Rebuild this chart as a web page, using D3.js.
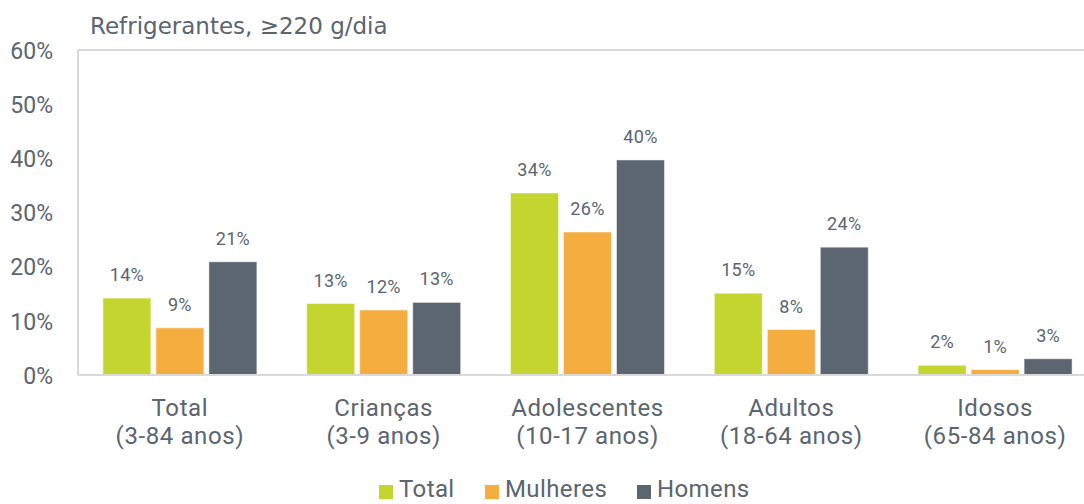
<!DOCTYPE html>
<html><head><meta charset="utf-8">
<script src="https://cdn.jsdelivr.net/npm/d3@7/dist/d3.min.js"></script>
<style>body{margin:0;background:#fff}svg{display:block}text{font-family:Roboto,"Open Sans",sans-serif;fill:#5a6570}</style>
</head><body><svg id="c" width="1084" height="504"></svg>
<script>
const categories = ["Total|(3-84 anos)", "Crianças|(3-9 anos)", "Adolescentes|(10-17 anos)", "Adultos|(18-64 anos)", "Idosos|(65-84 anos)"];
const seriesNames = ["Total", "Mulheres", "Homens"];
const totalValues = [14.2, 13.2, 33.6, 15.1, 1.8];
const mulheresValues = [8.7, 12.0, 26.4, 8.4, 1.0];
const homensValues = [20.9, 13.4, 39.7, 23.6, 3.0];
const yTicks = [0, 10, 20, 30, 40, 50, 60];
const colors = ["#c4d52f", "#f6ad40", "#5b6670"];
const title = "Refrigerantes, ≥220 g/dia";

const svg = d3.select("#c");
const L = 78, T = 50, B = 375;
const y = d3.scaleLinear().domain([0, 60]).range([B, T]);
const x0 = d3.scaleBand().domain(categories).range([L, 1097]).padding(0);
const x1 = d3.scaleBand().domain(seriesNames).range([0, x0.bandwidth()]).paddingInner(5/53).paddingOuter(0.47);
const seriesValues = [totalValues, mulheresValues, homensValues];

// frame lines
svg.append("line").attr("x1", L).attr("x2", 1084).attr("y1", T).attr("y2", T).attr("stroke", "#d9d9d9").attr("stroke-width", 2);
svg.append("line").attr("x1", L).attr("x2", L).attr("y1", T).attr("y2", B).attr("stroke", "#d9d9d9").attr("stroke-width", 2);

// y axis
const yAxis = d3.axisLeft(y).tickValues(yTicks).tickFormat(d => d + "%").tickSize(0).tickPadding(0);
const ya = svg.append("g").attr("transform", `translate(53,0)`).call(yAxis);
ya.select(".domain").remove();
ya.selectAll("text").attr("font-size", 23).style("font-family", "Roboto").attr("fill", "#5a6570").attr("dy", "0.36em");

// bars
categories.forEach((c, i) => {
  const g = svg.append("g").attr("transform", `translate(${x0(c)},0)`);
  seriesNames.forEach((s, j) => {
    const v = seriesValues[j][i];
    g.append("rect").attr("x", x1(s)).attr("width", x1.bandwidth())
      .attr("y", y(v)).attr("height", y(0) - y(v))
      .attr("fill", colors[j]).attr("stroke", "#ffffff").attr("stroke-opacity", 0.5).attr("stroke-width", 1);
    g.append("text").attr("x", x1(s) + x1.bandwidth() / 2).attr("y", y(v) - 17)
      .attr("text-anchor", "middle").attr("font-size", 18).attr("letter-spacing", 0.3).text(Math.round(v) + "%");
  });
});

// bottom axis line
svg.append("line").attr("x1", L).attr("x2", 1084).attr("y1", B).attr("y2", B).attr("stroke", "#d9d9d9").attr("stroke-width", 2);

// category labels
const xa = svg.append("g").attr("transform", `translate(0,${B})`).call(d3.axisBottom(x0).tickSize(0).tickFormat(""));
xa.select(".domain").remove();
categories.forEach(c => {
  const parts = c.split("|");
  const cx = x0(c) + x0.bandwidth() / 2;
  svg.append("text").attr("x", cx).attr("y", 416).attr("text-anchor", "middle").attr("font-size", 24).attr("letter-spacing", 0.6).text(parts[0]);
  svg.append("text").attr("x", cx).attr("y", 444).attr("text-anchor", "middle").attr("font-size", 24).attr("letter-spacing", 0.6).text(parts[1]);
});

// title
svg.append("text").attr("x", 90).attr("y", 34).attr("font-size", 23).style("font-family", "'DejaVu Sans'").text(title);

// legend
const legendX = [379, 485, 637];
seriesNames.forEach((s, j) => {
  svg.append("rect").attr("x", legendX[j]).attr("y", 485).attr("width", 14).attr("height", 14).attr("fill", colors[j]);
  svg.append("text").attr("x", legendX[j] + 20).attr("y", 497).attr("font-size", 24).attr("letter-spacing", 0.4).text(s);
});
</script></body></html>
